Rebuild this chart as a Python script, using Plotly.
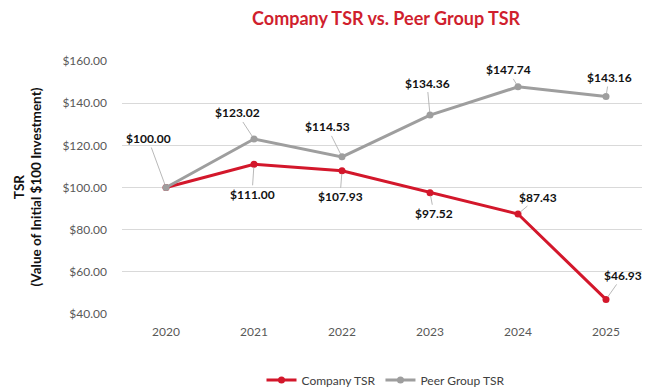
import plotly.graph_objects as go

years = [2020, 2021, 2022, 2023, 2024, 2025]
company_tsr = [100.00, 111.00, 107.93, 97.52, 87.43, 46.93]
peer_tsr = [100.00, 123.02, 114.53, 134.36, 147.74, 143.16]
y_ticks = [40, 60, 80, 100, 120, 140, 160]

RED = "#D3172B"
GRAY = "#9E9E9E"
FONT = "Lato"

fig = go.Figure()
fig.add_trace(go.Scatter(x=years, y=company_tsr, name="Company TSR", mode="lines+markers",
                         line=dict(color=RED, width=3), marker=dict(size=7, color=RED)))
fig.add_trace(go.Scatter(x=years, y=peer_tsr, name="Peer Group TSR", mode="lines+markers",
                         line=dict(color=GRAY, width=3), marker=dict(size=7, color=GRAY)))

# label offsets (pixels) for data labels
peer_off = [(-18, -49), (-17, -26), (-15, -30), (-3, -32), (-10, -17), (3, -19)]
comp_off = [None, (-2, 30), (-2, 26), (4, 21), (20, -17), (17, -24)]

for i, (yr, v) in enumerate(zip(years, peer_tsr)):
    ax, ay = peer_off[i]
    fig.add_annotation(x=yr, y=v, text=f"<b>${v:.2f}</b>", ax=ax, ay=ay, showarrow=True,
                       arrowhead=0, arrowwidth=0.8, arrowcolor="#A6A6A6", standoff=3,
                       font=dict(family=FONT, size=12, color="#111111"))
for i, (yr, v) in enumerate(zip(years, company_tsr)):
    if comp_off[i] is None:
        continue
    ax, ay = comp_off[i]
    fig.add_annotation(x=yr, y=v, text=f"<b>${v:.2f}</b>", ax=ax, ay=ay, showarrow=True,
                       arrowhead=0, arrowwidth=0.8, arrowcolor="#A6A6A6", standoff=3,
                       font=dict(family=FONT, size=12, color="#111111"))

fig.add_annotation(xref="paper", yref="paper", x=0, y=0.5, xshift=-95, xanchor="center",
                   yanchor="middle", textangle=-90, showarrow=False,
                   text="<b>TSR<br>(Value of Initial $100 Investment)</b>",
                   font=dict(family=FONT, size=13.5, color="#111111"))

fig.update_layout(
    width=642, height=382,
    margin=dict(l=114, r=0, t=53, b=76, autoexpand=False),
    paper_bgcolor="white", plot_bgcolor="white",
    font=dict(family=FONT, size=12, color="#595959"),
    title=dict(text="<b>Company TSR vs. Peer Group TSR</b>", x=0.589, xanchor="center",
               y=0.972, yanchor="middle", font=dict(family=FONT, size=18, color="#D01F2E")),
    showlegend=True,
    legend=dict(orientation="h", x=0.5, xanchor="center", y=-0.261, yanchor="middle",
                font=dict(family=FONT, size=12, color="#404040")),
    xaxis=dict(range=[2019.5, 2025.5], tickvals=years, ticktext=[str(y) for y in years],
               showgrid=False, ticks="", showline=False, zeroline=False,
               ticklabelstandoff=9,
               tickfont=dict(family=FONT, size=12, color="#595959")),
    yaxis=dict(range=[40, 160], tickvals=y_ticks, ticktext=[f"${t:.2f}" for t in y_ticks],
               showgrid=True, gridcolor="#D9D9D9", gridwidth=1, zeroline=False,
               showline=False, ticks="", ticklabelstandoff=14,
               tickfont=dict(family=FONT, size=12, color="#595959")),
)

fig.write_html("out.html")
